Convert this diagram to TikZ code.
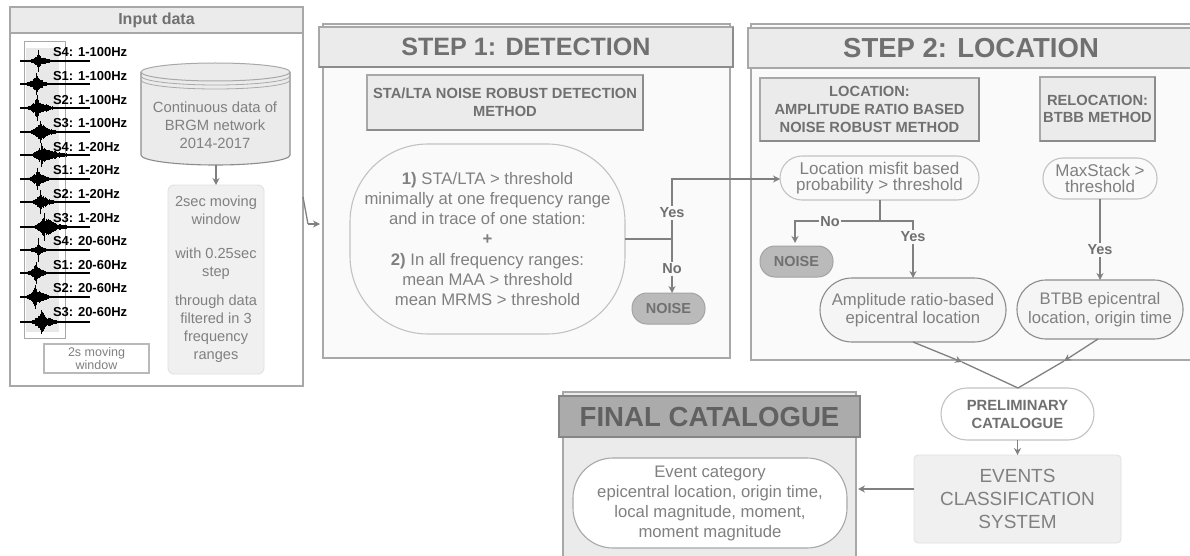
\documentclass[tikz,border=0pt]{standalone}
\usepackage{fontspec}
\setmainfont{Liberation Sans}
\usetikzlibrary{arrows.meta}
\newcommand{\fsz}[2]{\fontsize{#1pt}{#2pt}\selectfont}
\definecolor{txt}{HTML}{808080}
\definecolor{boldtxt}{HTML}{707070}
\definecolor{edge}{HTML}{A8A8A8}
\definecolor{darkedge}{HTML}{8C8C8C}
\definecolor{line}{HTML}{808080}
\definecolor{hdrfill}{HTML}{EBEBEB}
\definecolor{panel}{HTML}{FAFAFA}
\tikzset{
  every node/.style={inner sep=0pt,outer sep=0pt,align=center,text=txt},
  body/.style={draw=edge,line width=1.4pt,fill=#1},
  body/.default={panel},
  hdr/.style={draw=edge,line width=1.4pt,fill=hdrfill,anchor=north west},
  method/.style={draw=edge,line width=1.3pt,fill=hdrfill,anchor=north west,text=boldtxt,font=\bfseries\fsz{14.7}{17.8}},
  pill/.style={draw=#1,line width=1.1pt,anchor=north west,font=\fsz{17}{16.5}},
  pill/.default={edge!70},
  noise/.style={draw=darkedge!80,line width=1pt,fill=black!27,text=boldtxt,rounded corners=15pt,anchor=north west,minimum width=73pt,minimum height=31pt,font=\bfseries\fsz{14.5}{16}},
  conn/.style={draw=line,line width=1.3pt},
  arr/.style={conn,-{Stealth[length=7pt,width=7pt]}},
  lbl/.style={text=boldtxt,fill=#1,inner sep=1.5pt,font=\bfseries\fsz{14.5}{15}},
  lbl/.default={panel},
  wavel/.style={text=black,anchor=west,font=\bfseries\fsz{13}{14}},
  trace/.style={draw=black,line width=1.3pt},
  spike/.style={draw=black,line width=.9pt}
}
\newcommand{\darken}[1]{\draw[darkedge,line width=1.4pt] (#1.north east)--(#1.south east)--(#1.south west);}
% y, centre x, amplitude, decay, spike height
\newcommand{\wavetrace}[5]{%
  \draw[trace] (20,#1) -- (90,#1);
  \draw[spike] (#2,#1-#5) -- (#2,#1+#5);
  \foreach \k in {0,...,80}{%
    \pgfmathsetmacro\dd{-10+\k*0.5}%
    \pgfmathsetmacro\hh{#3*(\dd<0?exp(\dd/5):exp(-\dd/(2*#4)))*(0.55+0.45*rnd)}%
    \draw[spike] (#2+\dd,#1-\hh) -- (#2+\dd,#1+\hh);
  }%
}
\begin{document}
\begin{tikzpicture}[x=1pt,y=-1pt]
\pgfmathsetseed{4711}
\useasboundingbox (0,0) rectangle (1190,556);
\fill[white] (0,0) rectangle (1190,556);

% ---------- Input data
\draw[body=white] (10,7) rectangle (303,386);
\node[hdr,minimum width=293pt,minimum height=26pt,text=boldtxt,font=\bfseries\fsz{16}{17}] (inhdr) at (10,7) {Input data};
\draw[edge,line width=.8pt,fill=white] (24,41) rectangle (65,338);
\fill[black!9] (26,48) rectangle (59,332);
\wavetrace{61}{38}{7}{4}{11}
\wavetrace{84}{36}{10}{3}{11}
\wavetrace{108}{37}{11}{4}{13}
\wavetrace{132}{40}{11}{4}{11}
\wavetrace{155}{41}{10}{7}{12}
\wavetrace{179}{37}{9}{4}{11}
\wavetrace{202}{40}{9}{4}{12}
\wavetrace{227}{44}{11}{6}{14}
\wavetrace{250}{38}{6}{3}{12}
\wavetrace{273}{36}{10}{3}{11}
\wavetrace{297}{35}{11}{4}{12}
\wavetrace{322}{41}{12}{4}{12}
\node[wavel] (w1) at (53,52) {S4: 1-100Hz};
\node[wavel] (w2) at (53,76) {S1: 1-100Hz};
\node[wavel] (w3) at (53,100) {S2: 1-100Hz};
\node[wavel] (w4) at (53,123) {S3: 1-100Hz};
\node[wavel] (w5) at (53,147) {S4: 1-20Hz};
\node[wavel] (w6) at (53,170) {S1: 1-20Hz};
\node[wavel] (w7) at (53,194) {S2: 1-20Hz};
\node[wavel] (w8) at (53,218) {S3: 1-20Hz};
\node[wavel] (w9) at (53,241) {S4: 20-60Hz};
\node[wavel] (w10) at (53,265) {S1: 20-60Hz};
\node[wavel] (w11) at (53,288) {S2: 20-60Hz};
\node[wavel] (w12) at (53,312) {S3: 20-60Hz};
\node[draw=edge!80,line width=1.2pt,fill=white,anchor=north west,minimum width=105pt,minimum height=29pt,font=\fsz{12.5}{12.5}] (movewin) at (44,344) {2s moving\\window};
% database cylinder
\fill[hdrfill] (141,72) -- (141,155) arc[start angle=180,end angle=0,x radius=74.5,y radius=10] -- (290,72) -- cycle;
\draw[darkedge,line width=1.1pt] (141,72) -- (141,155) arc[start angle=180,end angle=0,x radius=74.5,y radius=10] -- (290,72);
\draw[edge,line width=1pt,fill=hdrfill] (215.5,72) ellipse[x radius=74.5,y radius=9];
\draw[edge,line width=.8pt] (141,76) arc[start angle=180,end angle=0,x radius=74.5,y radius=9];
\draw[edge,line width=.8pt] (141,80) arc[start angle=180,end angle=0,x radius=74.5,y radius=9];
\node[font=\fsz{14.8}{18}] (db) at (215,125) {Continuous data of\\BRGM network\\2014-2017};
\coordinate (dbbot) at (216,165);
\node[draw=black!12,line width=.8pt,fill=black!6,rounded corners=6pt,anchor=north west,minimum width=96pt,minimum height=189pt,font=\fsz{14.6}{18}] (win) at (168,185)
  {2sec moving\\window\\[16pt]with 0.25sec\\step\\[11pt]through data\\filtered in 3\\frequency\\ranges};
\draw[arr] (dbbot) -- (win.north);

% ---------- Step 1
\draw[body] (323,24) rectangle (730,358);
\node[hdr,minimum width=414pt,minimum height=40pt,text=boldtxt,font=\bfseries\fsz{25.1}{28}] (s1hdr) at (319,27) {STEP 1: DETECTION};
\darken{s1hdr}
\node[method,minimum width=276pt,minimum height=55pt] (s1m) at (367,75) {STA/LTA NOISE ROBUST DETECTION\\METHOD};
\darken{s1m}
\node[pill,rounded corners=78pt,minimum width=275pt,minimum height=190pt,font=\fsz{16.7}{20.1}] (det) at (350,144)
  {\textbf{1)} STA/LTA > threshold\\minimally at one frequency range\\and in trace of one station:\\\textbf{+}\\\textbf{2)} In all frequency ranges:\\mean MAA > threshold\\mean MRMS > threshold};
\node[noise] (n1) at (632,293) {NOISE};
\coordinate (split1) at (672,239);
\coordinate (up1) at (672,179);

% ---------- Step 2
\draw[body] (751,24) -- (1192,24) -- (1192,360) -- (751,360) -- cycle;
\node[hdr,minimum width=446pt,minimum height=40pt,text=boldtxt,font=\bfseries\fsz{27.5}{30}] (s2hdr) at (748,28) {STEP 2: LOCATION};
\node[method,minimum width=219pt,minimum height=63pt] (s2m) at (760,78) {LOCATION:\\AMPLITUDE RATIO BASED\\NOISE ROBUST METHOD};
\darken{s2m}
\node[method,minimum width=115pt,minimum height=64pt] (s2r) at (1040,77) {RELOCATION:\\BTBB METHOD};
\darken{s2r}
\node[pill,rounded corners=22pt,minimum width=199pt,minimum height=44pt] (mis) at (780,156) {Location misfit based\\probability > threshold};
\node[pill,rounded corners=20pt,minimum width=114pt,minimum height=41pt] (maxs) at (1043,158) {MaxStack >\\threshold};
\node[noise] (n2) at (760,246) {NOISE};
\node[pill=darkedge,fill=black!4,rounded corners=32pt,minimum width=186pt,minimum height=64pt,font=\fsz{16.7}{18.6}] (amp) at (820,278) {Amplitude ratio-based\\epicentral location};
\node[pill=darkedge,fill=black!4,rounded corners=29pt,minimum width=166pt,minimum height=59pt,font=\fsz{16.7}{18.6}] (btbb) at (1017,280) {BTBB epicentral\\location, origin time};

% connectors, step 1
\coordinate (inexit) at (303,197);
\coordinate (inbend) at (308,224);
\coordinate (s1in) at (320,224);
\draw[conn] (inexit) -- (inbend);
\draw[arr] (inbend) -- (s1in);
\draw[conn] (det.east |- split1) -- (split1);
\draw[arr] (split1) -- (up1) -- (mis.west |- up1);
\draw[arr] (split1) -- (n1.north -| split1);
\node[lbl] (y1) at (672,213) {Yes};
\node[lbl] (no1) at (672,269) {No};

% connectors, step 2
\coordinate (bj) at (880,221);
\coordinate (nb) at (795,221);
\coordinate (yb) at (913,221);
\coordinate (nend) at (795,243);
\draw[conn] (mis.south -| bj) -- (bj);
\draw[arr] (bj) -- (nb) -- (nend);
\draw[arr] (bj) -- (yb) -- (amp.north -| yb);
\draw[arr] (maxs.south) -- (btbb.north -| maxs.south);
\node[lbl] (no2) at (830,222) {No};
\node[lbl] (y2) at (913,237) {Yes};
\node[lbl] (y3) at (1100,250) {Yes};

% ---------- Preliminary, events, final
\node[pill,fill=white,rounded corners=26pt,minimum width=153pt,minimum height=52pt,text=boldtxt,font=\bfseries\fsz{14.8}{18}] (pre) at (941,388) {PRELIMINARY\\CATALOGUE};
\node[draw=black!12,line width=.8pt,fill=black!6,rounded corners=4pt,anchor=north west,minimum width=207pt,minimum height=88pt,font=\fsz{19}{22.6}] (ev) at (914,455) {EVENTS\\CLASSIFICATION\\SYSTEM};
\draw[arr] (pre.south) -- (ev.north -| pre.south);

\coordinate (apex) at (1018,388);
\coordinate (midl) at (962,362);
\coordinate (midr) at (1064,361);
\draw[arr] (913,342) -- (midl);
\draw[conn] (midl) -- (apex);
\draw[arr] (1098,339) -- (midr);
\draw[conn] (midr) -- (apex);

\fill[hdrfill] (563,392) rectangle (856,556);
\draw[edge,line width=1.4pt] (563,556) -- (563,392) -- (856,392) -- (856,556);
\node[draw=black!48,line width=1.4pt,fill=black!33,anchor=north west,minimum width=301pt,minimum height=41pt,text=black!62,font=\bfseries\fsz{27.6}{30}] (fhdr) at (559,396) {FINAL CATALOGUE};
\node[pill=edge,fill=white,rounded corners=40pt,minimum width=274pt,minimum height=90pt,font=\fsz{16.7}{20}] (fin) at (573,458)
  {Event category\\epicentral location, origin time,\\local magnitude, moment,\\moment magnitude};
\coordinate (finr) at (858,489);
\draw[arr] (ev.west |- finr) -- (finr);
\end{tikzpicture}
\end{document}
